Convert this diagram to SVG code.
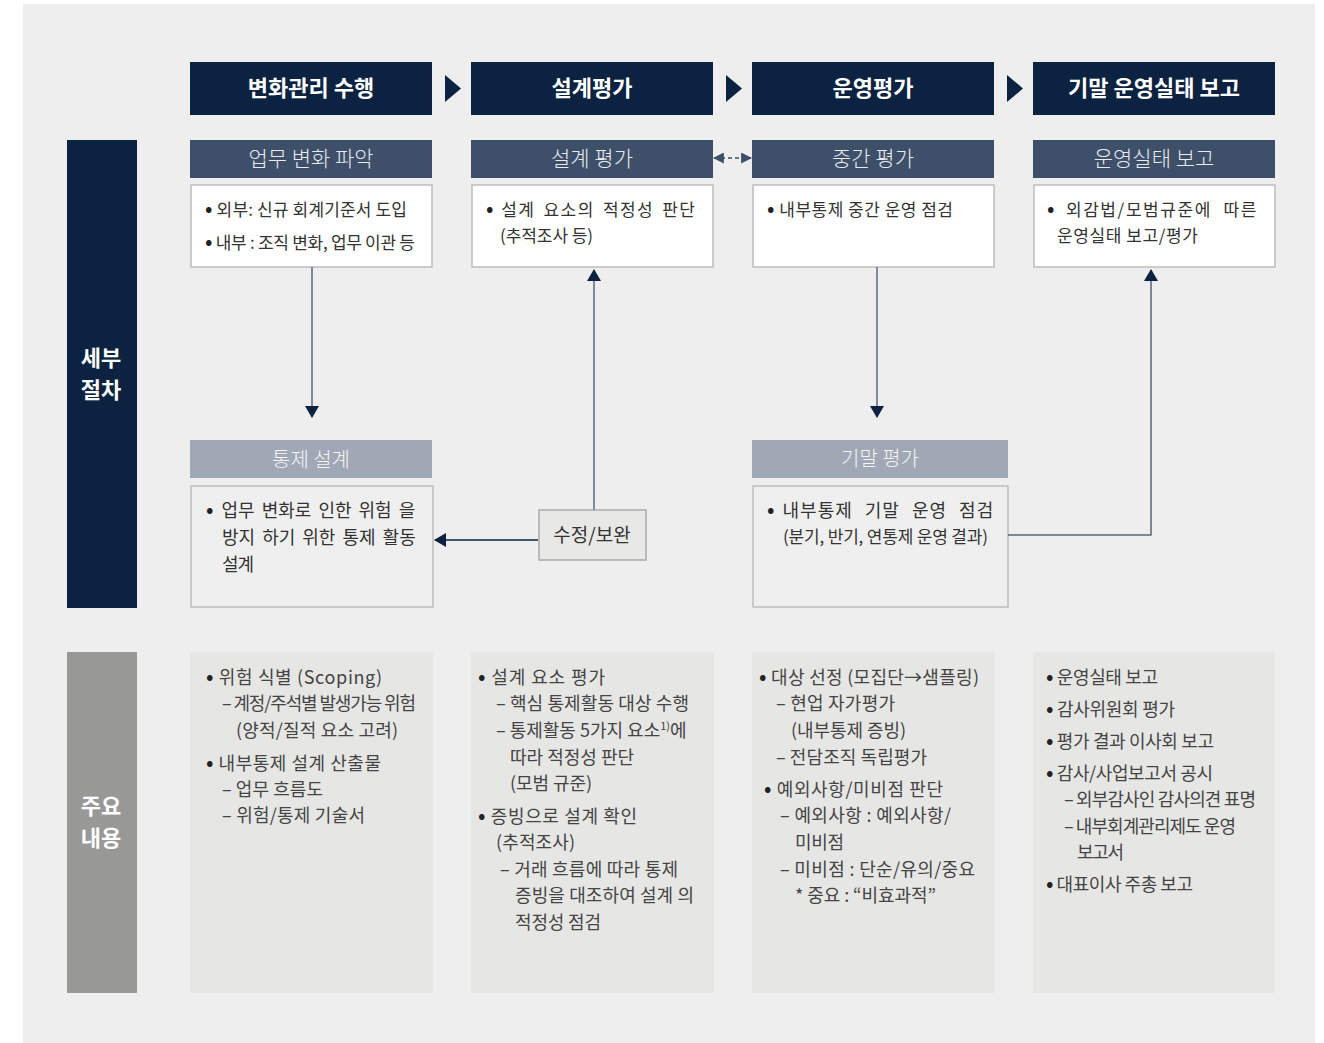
<svg xmlns="http://www.w3.org/2000/svg" width="1324" height="1043" viewBox="0 0 1324 1043">
<defs>
<style>
text{font-family:"Noto Sans CJK KR","Noto Sans",sans-serif;}
.hd{fill:#0b2240;}
.hdt{fill:#fff;font-size:22px;font-weight:700;text-anchor:middle;}
.sh{fill:#3d4f69;}
.sht{fill:#e8ecf2;font-size:21px;font-weight:300;text-anchor:middle;}
.sh2{fill:#a0a8b5;}
.sh2t{fill:#f4f5f7;font-size:20px;font-weight:300;text-anchor:middle;}
.box{fill:#fff;stroke:#bdbdbd;stroke-width:1.5;}
.box2{fill:#efefef;stroke:#bdbdbd;stroke-width:1.5;}
.bt{fill:#333;font-size:17px;}
.bt2{fill:#333;font-size:18px;}
.col{fill:#e6e6e4;}
.ct{fill:#444;font-size:18px;}
.b{font-size:22px;fill:#222;}
.nw{word-spacing:0;letter-spacing:0;}
.gap{word-spacing:0;letter-spacing:4px;}
.side{fill:#fff;font-size:22px;font-weight:700;text-anchor:middle;}
.ln{fill:none;stroke:#7f8a9c;stroke-width:2;}
.ln2{fill:none;stroke:#0b2240;stroke-width:1.5;}
.ln3{fill:none;stroke:#5b6474;stroke-width:1.5;}
</style>
<marker id="ah" viewBox="0 0 12 14" refX="11" refY="7" markerWidth="12" markerHeight="14" markerUnits="userSpaceOnUse" orient="auto">
<path d="M0,0 L12,7 L0,14 Z" fill="#0b2240"/>
</marker>
<marker id="ahs" viewBox="0 0 10 10" refX="9" refY="5" markerWidth="11" markerHeight="11" markerUnits="userSpaceOnUse" orient="auto-start-reverse">
<path d="M0,0 L10,5 L0,10 Z" fill="#3d4f69"/>
</marker>
</defs>
<rect x="0" y="0" width="1324" height="1043" fill="#fff"/>
<rect x="23" y="4" width="1292" height="1039" fill="#eeeeee"/>

<g id="header-row">
<g id="h1"><rect class="hd" x="190" y="62" width="242" height="53"/><text class="hdt" x="311" y="96">변화관리 수행</text></g>
<g id="h2"><rect class="hd" x="471" y="62" width="242" height="53"/><text class="hdt" x="592" y="96">설계평가</text></g>
<g id="h3"><rect class="hd" x="752" y="62" width="242" height="53"/><text class="hdt" x="873" y="96">운영평가</text></g>
<g id="h4"><rect class="hd" x="1033" y="62" width="242" height="53"/><text class="hdt" x="1154" y="96">기말 운영실태 보고</text></g>
<path d="M445,75 L461,88.5 L445,102 Z" fill="#0b2240"/>
<path d="M726,75 L742,88.5 L726,102 Z" fill="#0b2240"/>
<path d="M1007,75 L1023,88.5 L1007,102 Z" fill="#0b2240"/>
</g>

<g id="side1"><rect x="67" y="140" width="70" height="468" fill="#0b2240"/><text class="side" x="101" y="366">세부</text><text class="side" x="101" y="398">절차</text></g>
<g id="side2"><rect x="67" y="652" width="70" height="341" fill="#989896"/><text class="side" x="101" y="814">주요</text><text class="side" x="101" y="846">내용</text></g>

<g id="n-upmu">
<rect class="sh" x="190" y="140" width="242" height="38"/><text class="sht" x="311" y="166">업무 변화 파악</text>
<rect class="box" x="191" y="185" width="241" height="82"/>
<text class="bt" x="205" y="216" textLength="202"><tspan class="b">•</tspan> 외부: 신규 회계기준서 도입</text>
<text class="bt" x="205" y="249" textLength="210"><tspan class="b">•</tspan> 내부 : 조직 변화, 업무 이관 등</text>
</g>
<g id="n-seolgye">
<rect class="sh" x="471" y="140" width="242" height="38"/><text class="sht" x="592" y="166">설계 평가</text>
<rect class="box" x="472" y="185" width="241" height="82"/>
<text class="bt" x="486" y="216" style="word-spacing:3px;letter-spacing:1.4px"><tspan class="b nw">•</tspan><tspan class="gap"> </tspan>설계 요소의 적정성 판단</text>
<text class="bt" x="500" y="242" textLength="93">(추적조사 등)</text>
</g>
<g id="n-junggan">
<rect class="sh" x="752" y="140" width="242" height="38"/><text class="sht" x="873" y="166">중간 평가</text>
<rect class="box" x="753" y="185" width="241" height="82"/>
<text class="bt" x="767" y="216" textLength="186"><tspan class="b">•</tspan> 내부통제 중간 운영 점검</text>
</g>
<g id="n-unyeong">
<rect class="sh" x="1033" y="140" width="242" height="38"/><text class="sht" x="1154" y="166">운영실태 보고</text>
<rect class="box" x="1034" y="185" width="241" height="82"/>
<text class="bt" x="1047" y="216" style="word-spacing:6px;letter-spacing:1.6px"><tspan class="b nw">•</tspan> 외감법/모범규준에 따른</text>
<text class="bt" x="1057" y="242" textLength="141">운영실태 보고/평가</text>
</g>
<g id="n-tongje">
<rect class="sh2" x="190" y="440" width="242" height="38"/><text class="sh2t" x="311" y="467">통제 설계</text>
<rect class="box2" x="191" y="486" width="242" height="121"/>
<text class="bt2" x="206" y="517" style="word-spacing:3px"><tspan class="b nw">•</tspan><tspan class="gap"> </tspan>업무 변화로 인한 위험 을</text>
<text class="bt2" x="222" y="544" style="word-spacing:3px">방지 하기 위한 통제 활동</text>
<text class="bt2" x="222" y="571" textLength="32">설계</text>
</g>
<g id="n-gimal">
<rect class="sh2" x="752" y="440" width="256" height="38"/><text class="sh2t" x="880" y="466">기말 평가</text>
<rect class="box2" x="753" y="486" width="255" height="121"/>
<text class="bt2" x="767" y="517" style="word-spacing:7px;letter-spacing:1px"><tspan class="b nw">•</tspan><tspan class="gap"> </tspan>내부통제 기말 운영 점검</text>
<text class="bt" x="783" y="543" textLength="205">(분기, 반기, 연통제 운영 결과)</text>
</g>
<g id="n-sujeong">
<rect x="539" y="510" width="107" height="50" fill="#e8e8e7" stroke="#aaaaaa" stroke-width="1.5"/>
<text x="592" y="542" font-size="19" fill="#333" text-anchor="middle">수정/보완</text>
</g>

<g id="connectors">
<line class="ln" x1="312" y1="267" x2="312" y2="417" marker-end="url(#ah)"/>
<line class="ln" x1="594" y1="510" x2="594" y2="270" marker-end="url(#ah)"/>
<line class="ln2" x1="538" y1="540" x2="435" y2="540" marker-end="url(#ah)"/>
<line class="ln" x1="877" y1="267" x2="877" y2="417" marker-end="url(#ah)"/>
<polyline class="ln3" points="1008,535 1151,535 1151,270" marker-end="url(#ah)"/>
<line x1="714" y1="158" x2="751" y2="158" stroke="#3d4f69" stroke-width="1.5" stroke-dasharray="4,3" marker-start="url(#ahs)" marker-end="url(#ahs)"/>
</g>

<g id="c1">
<rect class="col" x="190" y="652" width="243" height="341"/>
<text class="ct" x="206" y="684" textLength="176"><tspan class="b">•</tspan>  위험 식별 (Scoping)</text>
<text class="ct" x="222" y="710" textLength="194">– 계정/주석별 발생가능 위험</text>
<text class="ct" x="236" y="737" textLength="162">(양적/질적 요소 고려)</text>
<text class="ct" x="206" y="770" textLength="175"><tspan class="b">•</tspan>  내부통제 설계 산출물</text>
<text class="ct" x="222" y="796" textLength="101">– 업무 흐름도</text>
<text class="ct" x="222" y="822" textLength="143">– 위험/통제 기술서</text>
</g>
<g id="c2">
<rect class="col" x="471" y="652" width="243" height="341"/>
<text class="ct" x="478" y="684" textLength="127"><tspan class="b">•</tspan>  설계 요소 평가</text>
<text class="ct" x="496" y="710" textLength="193">– 핵심 통제활동 대상 수행</text>
<text class="ct" x="496" y="737">– 통제활동 5가지 요소<tspan font-size="11" dy="-7">1)</tspan><tspan dy="7">에</tspan></text>
<text class="ct" x="510" y="764" textLength="124">따라 적정성 판단</text>
<text class="ct" x="510" y="790" textLength="82">(모범 규준)</text>
<text class="ct" x="478" y="823" textLength="159"><tspan class="b">•</tspan>  증빙으로 설계 확인</text>
<text class="ct" x="496" y="849" textLength="79">(추적조사)</text>
<text class="ct" x="500" y="876" textLength="178">– 거래 흐름에 따라 통제</text>
<text class="ct" x="515" y="902" textLength="179">증빙을 대조하여 설계 의</text>
<text class="ct" x="515" y="929" textLength="86">적정성 점검</text>
</g>
<g id="c3">
<rect class="col" x="752" y="652" width="243" height="341"/>
<text class="ct" x="759" y="684" textLength="220"><tspan class="b">•</tspan>  대상 선정 (모집단→샘플링)</text>
<text class="ct" x="776" y="710" textLength="119">– 현업 자가평가</text>
<text class="ct" x="791" y="737" textLength="115">(내부통제 증빙)</text>
<text class="ct" x="776" y="764" textLength="151">– 전담조직 독립평가</text>
<text class="ct" x="764" y="796" textLength="179"><tspan class="b">•</tspan>  예외사항/미비점 판단</text>
<text class="ct" x="780" y="822" textLength="171">– 예외사항 : 예외사항/</text>
<text class="ct" x="795" y="849" textLength="49">미비점</text>
<text class="ct" x="780" y="876" textLength="195">– 미비점 : 단순/유의/중요</text>
<text class="ct" x="795" y="902" textLength="141">* 중요 : “비효과적”</text>
</g>
<g id="c4">
<rect class="col" x="1033" y="652" width="242" height="341"/>
<text class="ct" x="1046" y="684" textLength="112"><tspan class="b">•</tspan> 운영실태 보고</text>
<text class="ct" x="1046" y="716" textLength="129"><tspan class="b">•</tspan> 감사위원회 평가</text>
<text class="ct" x="1046" y="748" textLength="168"><tspan class="b">•</tspan> 평가 결과 이사회 보고</text>
<text class="ct" x="1046" y="780" textLength="167"><tspan class="b">•</tspan> 감사/사업보고서 공시</text>
<text class="ct" x="1064" y="806" textLength="192">– 외부감사인 감사의견 표명</text>
<text class="ct" x="1064" y="833" textLength="172">– 내부회계관리제도 운영</text>
<text class="ct" x="1077" y="859" textLength="47">보고서</text>
<text class="ct" x="1046" y="891" textLength="147"><tspan class="b">•</tspan> 대표이사 주총 보고</text>
</g>
</svg>
